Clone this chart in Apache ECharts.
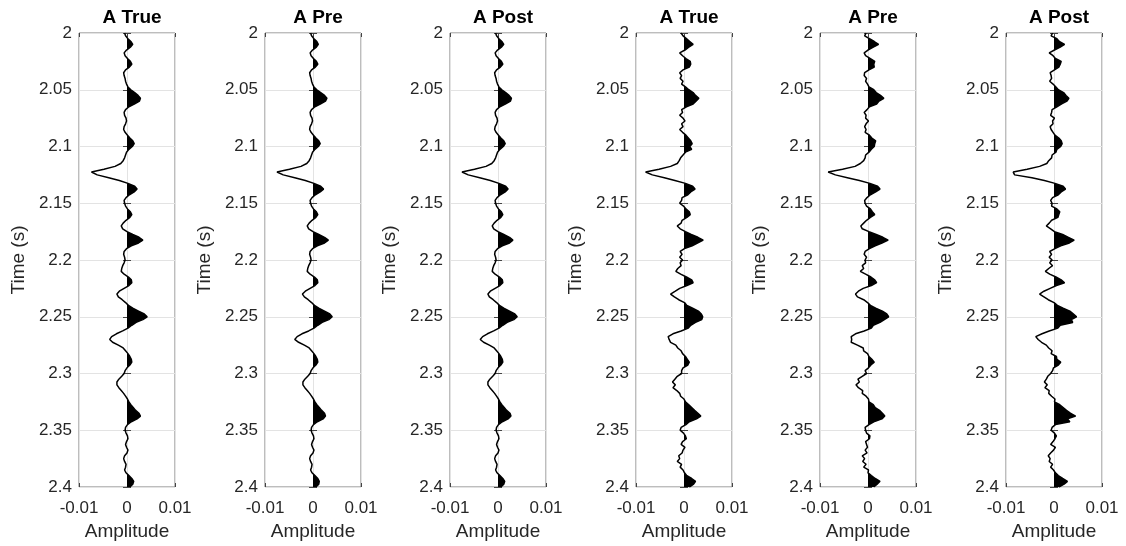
<!DOCTYPE html>
<html><head><meta charset="utf-8">
<script src="https://cdn.jsdelivr.net/npm/echarts@6/dist/echarts.min.js"></script>
<style>html,body{margin:0;padding:0;background:#fff}#c{width:1126px;height:546px}</style>
</head><body><div id="c"></div>
<script>
// Panel titles
const panelTitles = ['A True', 'A Pre', 'A Post', 'A True', 'A Pre', 'A Post'];
// Time sampling (s)
const timeStart = 2.0;
const timeStep = 0.0025;
const sampleCount = 161;
// Tick labels
const amplitudeTicks = [-0.01, 0, 0.01];
const timeTickLabels = ['2', '2.05', '2.1', '2.15', '2.2', '2.25', '2.3', '2.35', '2.4'];
// Amplitudes, in units of 1e-3
const ampTrueSmooth = [
-0.5,-0.3,0.2,0.8,1.2,0.7,-0.1,-0.6,-0.4,0.1,
0.7,1.0,0.5,-0.3,-0.7,-0.6,-0.4,-0.3,-0.1,0.2,
0.8,1.6,2.3,2.8,2.6,1.6,0.4,-0.3,-0.6,-0.5,
-0.2,-0.1,-0.3,-0.6,-0.7,-0.4,0.1,0.6,1.2,1.5,
1.1,0.4,-0.1,-0.3,-0.5,-0.8,-1.3,-2.5,-4.8,-7.4,
-6.2,-3.8,-1.6,0.2,1.6,2.1,1.5,0.5,-0.2,-0.6,
-0.5,-0.3,0.1,0.7,1.0,0.6,-0.2,-0.8,-1.2,-0.9,
0.0,1.2,2.5,3.3,2.4,0.9,-0.1,-0.6,-0.7,-0.5,
-0.4,-0.6,-0.9,-1.1,-1.2,-0.6,0.3,0.9,1.0,0.4,
-0.6,-1.6,-2.1,-1.8,-1.0,-0.3,0.3,1.2,2.4,3.6,
4.2,3.3,1.9,1.0,0.2,-0.9,-2.2,-3.2,-3.6,-3.0,
-1.8,-0.8,-0.3,0.2,0.6,0.9,1.0,0.6,0.0,-0.4,
-0.6,-1.1,-1.7,-2.1,-2.1,-1.7,-1.2,-0.7,-0.3,0.1,
0.4,0.8,1.3,1.8,2.5,2.8,2.1,0.9,0.1,-0.3,
-0.4,-0.2,0.1,0.2,-0.1,-0.3,-0.1,0.2,0.0,-0.5,
-0.7,-0.5,-0.2,-0.3,-0.5,-0.2,0.4,1.0,1.4,1.2,
0.6];
const ampPreSmooth = [
-0.5,-0.3,0.2,0.8,1.1,0.7,-0.1,-0.6,-0.4,0.1,
0.7,1.0,0.5,-0.3,-0.7,-0.6,-0.4,-0.3,-0.1,0.2,
0.8,1.6,2.4,2.9,2.6,1.6,0.4,-0.3,-0.6,-0.5,
-0.2,-0.1,-0.3,-0.6,-0.7,-0.4,0.1,0.6,1.2,1.5,
1.1,0.4,-0.1,-0.3,-0.5,-0.8,-1.3,-2.5,-4.9,-7.5,
-6.2,-3.8,-1.6,0.2,1.6,2.2,1.5,0.5,-0.2,-0.6,
-0.5,-0.3,0.1,0.7,1.0,0.6,-0.2,-0.8,-1.2,-0.9,
0.0,1.2,2.4,3.2,2.4,0.9,-0.1,-0.6,-0.7,-0.5,
-0.4,-0.6,-0.9,-1.1,-1.2,-0.6,0.3,0.9,1.0,0.4,
-0.6,-1.6,-2.2,-1.8,-1.0,-0.3,0.3,1.2,2.4,3.5,
4.0,3.3,1.9,1.0,0.2,-0.9,-2.3,-3.3,-3.8,-3.0,
-1.8,-0.8,-0.3,0.2,0.6,0.9,1.0,0.6,0.0,-0.4,
-0.6,-1.1,-1.7,-2.1,-2.1,-1.7,-1.2,-0.7,-0.3,0.1,
0.4,0.8,1.3,1.8,2.4,2.6,2.1,0.9,0.1,-0.3,
-0.4,-0.2,0.1,0.2,-0.1,-0.3,-0.1,0.2,0.0,-0.5,
-0.7,-0.5,-0.2,-0.3,-0.5,-0.2,0.4,1.0,1.3,1.2,
0.6];
const ampPostSmooth = [
-0.5,-0.3,0.2,0.8,1.2,0.7,-0.1,-0.6,-0.4,0.1,
0.7,1.0,0.5,-0.3,-0.7,-0.6,-0.4,-0.3,-0.1,0.2,
0.8,1.6,2.3,2.8,2.6,1.6,0.4,-0.3,-0.6,-0.5,
-0.2,-0.1,-0.3,-0.6,-0.7,-0.4,0.1,0.6,1.2,1.5,
1.1,0.4,-0.1,-0.3,-0.5,-0.8,-1.3,-2.5,-4.9,-7.5,
-6.2,-3.8,-1.6,0.2,1.6,2.1,1.5,0.5,-0.2,-0.6,
-0.5,-0.3,0.1,0.7,1.0,0.6,-0.2,-0.8,-1.2,-0.9,
0.0,1.2,2.4,3.1,2.4,0.9,-0.1,-0.6,-0.7,-0.5,
-0.4,-0.6,-0.9,-1.1,-1.2,-0.6,0.3,0.9,1.0,0.4,
-0.6,-1.6,-2.1,-1.8,-1.0,-0.3,0.3,1.2,2.4,3.5,
4.0,3.3,1.9,1.0,0.2,-0.9,-2.2,-3.2,-3.7,-3.0,
-1.8,-0.8,-0.3,0.2,0.6,0.9,1.0,0.6,0.0,-0.4,
-0.6,-1.1,-1.7,-2.1,-2.1,-1.7,-1.2,-0.7,-0.3,0.1,
0.4,0.8,1.3,1.8,2.5,2.7,2.1,0.9,0.1,-0.3,
-0.4,-0.2,0.1,0.2,-0.1,-0.3,-0.1,0.2,0.0,-0.5,
-0.7,-0.5,-0.2,-0.3,-0.5,-0.2,0.4,1.0,1.4,1.2,
0.6];
const ampTrueNoisy = [
-0.6,-0.2,0.5,1.2,1.9,1.0,0.2,-0.9,-0.3,0.4,
1.3,1.4,1.1,-0.2,-0.9,-0.5,-0.8,-0.2,-0.5,0.3,
1.0,1.9,2.4,3.1,2.5,1.9,0.5,-0.5,-0.3,-0.9,
-0.2,0.2,-0.5,-0.2,-0.9,-0.3,0.4,0.9,1.4,1.7,
1.2,1.6,0.3,-0.2,-0.7,-1.0,-1.4,-2.8,-5.2,-8.0,
-6.6,-4.1,-1.9,0.3,1.8,2.3,1.4,0.8,-0.4,-0.5,
-0.9,-0.1,0.4,1.1,1.3,0.6,-0.4,-0.6,-1.4,-0.8,
0.3,1.5,2.9,4.0,2.8,1.7,0.1,-0.8,-0.4,-0.9,
-0.3,-0.8,-0.6,-1.3,-1.7,-0.7,0.5,1.6,1.9,0.6,
-0.9,-1.8,-2.8,-2.0,-1.1,0.1,0.6,1.8,3.0,3.6,
3.9,3.7,2.4,1.4,0.9,-0.6,-2.3,-3.3,-3.1,-2.8,
-1.7,-1.3,-0.6,-0.3,0.3,0.7,1.1,0.8,-0.2,-0.5,
-0.5,-1.4,-1.9,-2.4,-1.8,-2.3,-1.5,-0.9,-0.7,0.0,
0.3,1.0,1.6,2.2,2.9,3.5,2.6,1.1,0.4,-0.6,
-0.8,-0.1,0.3,0.5,-0.3,-0.6,0.2,-0.2,-0.4,-1.1,
-0.9,-1.4,-0.5,-0.8,-0.2,0.1,0.6,1.6,2.4,2.0,
1.1];
const ampPreNoisy = [
-0.4,-0.7,0.3,1.3,2.2,1.1,0.0,-0.8,-0.5,0.5,
1.4,1.2,1.3,0.2,-0.7,-0.8,-0.3,-0.5,-0.1,0.2,
1.2,1.7,2.6,3.3,2.3,1.8,0.3,-0.2,-0.8,-0.4,
-0.5,0.1,-0.4,-0.7,-0.4,-0.6,0.3,0.8,1.6,1.4,
1.3,0.7,0.2,-0.5,-0.6,-0.9,-1.6,-2.7,-5.3,-8.3,
-6.8,-4.3,-1.8,0.4,2.0,2.5,1.6,0.5,-0.2,-0.7,
-0.6,-0.3,0.5,0.9,1.4,0.5,-0.3,-0.9,-1.5,-1.2,
0.2,1.7,3.1,4.2,2.9,1.5,0.3,-0.6,-0.8,-0.3,
-0.6,-0.5,-1.2,-0.9,-1.6,-0.5,0.6,1.4,1.8,0.7,
-1.0,-2.0,-2.6,-2.2,-0.9,-0.1,0.5,1.6,3.0,3.9,
4.3,3.4,2.5,1.1,0.7,-0.8,-2.6,-3.5,-3.4,-3.5,
-2.2,-1.0,-0.9,-0.1,0.2,0.8,1.3,0.6,0.1,-0.6,
-0.3,-1.2,-2.1,-1.8,-2.5,-2.0,-1.1,-1.2,-0.4,0.1,
0.2,1.1,1.5,2.4,3.0,3.5,2.9,1.2,0.2,-0.6,
-0.5,-0.3,0.4,0.3,-0.5,-0.3,-0.1,-0.6,-0.2,-1.2,
-0.7,-1.1,-0.4,-0.9,0.1,0.0,0.7,1.5,2.5,1.9,
1.2];
const ampPostNoisy = [
-0.3,-0.6,0.6,1.1,2.2,1.3,0.1,-1.0,-0.2,0.3,
1.5,1.3,1.0,0.1,-0.8,-0.6,-0.5,-0.9,-0.2,0.4,
0.9,2.0,2.5,3.1,2.7,1.6,0.6,-0.4,-0.5,-0.7,
0.1,-0.3,-0.2,-0.8,-0.6,-0.2,0.2,1.0,1.5,1.7,
1.4,0.6,0.4,-0.4,-0.5,-1.1,-1.5,-3.0,-5.6,-8.5,
-8.2,-4.6,-2.0,0.2,1.9,2.4,1.5,0.9,-0.3,-0.7,
-0.4,-0.5,0.6,1.2,1.0,0.8,-0.5,-1.0,-1.6,-0.7,
0.1,1.8,3.0,4.2,3.2,1.4,0.2,-0.9,-0.5,-1.0,
-0.4,-0.9,-0.3,-1.1,-1.8,-0.9,0.4,1.5,2.2,0.5,
-0.8,-2.1,-3.0,-2.1,-1.2,0.0,0.7,1.9,3.3,4.0,
4.7,3.6,3.9,1.3,0.8,-1.0,-2.5,-3.8,-3.3,-2.6,
-1.6,-1.1,-0.4,-0.6,0.5,0.6,1.4,0.9,-0.1,-0.3,
-0.7,-1.3,-1.6,-2.0,-1.4,-1.9,-1.0,-1.1,-0.5,0.2,
0.1,1.2,1.9,2.6,3.4,4.5,2.8,3.3,0.3,-0.4,
-0.6,0.1,0.5,0.2,-0.2,-0.7,0.3,-0.1,-0.7,-1.2,
-0.8,-1.0,-0.3,-0.7,-0.1,0.3,0.9,1.8,2.8,2.1,
1.0];
const panelAmps = [ampTrueSmooth, ampPreSmooth, ampPostSmooth, ampTrueNoisy, ampPreNoisy, ampPostNoisy];

const timeCats = [];
for (let i = 0; i < sampleCount; i++) timeCats.push((timeStart + i * timeStep).toFixed(4));
const labelEvery = 20;

const gridLefts = [79, 265, 450, 636, 820, 1006];
const textColor = '#262626';
const font = 'Liberation Sans, Arial, sans-serif';

const grid = [], xAxis = [], yAxis = [], series = [], title = [], areaIdx = [];
gridLefts.forEach((l, i) => {
  grid.push({left: l, top: 33, width: 96, height: 455, show: true, borderColor: '#7a7a7a', borderWidth: 1, backgroundColor: '#fff'});
  title.push({text: panelTitles[i], left: l + 48, top: 3, textAlign: 'center',
    textStyle: {fontFamily: font, fontSize: 19, fontWeight: 'bold', color: '#000'}});
});
gridLefts.forEach((l, i) => {
  xAxis.push({gridIndex: i, type: 'value', min: amplitudeTicks[0], max: amplitudeTicks[2], interval: 0.01, position: 'bottom',
    axisLine: {show: false}, axisTick: {show: true, inside: true, length: 4, lineStyle: {color: '#444'}},
    axisLabel: {fontFamily: font, fontSize: 17, color: textColor, margin: 13, formatter: v => String(+v.toFixed(3))},
    splitLine: {show: true, lineStyle: {color: '#e3e3e3', width: 1}},
    name: 'Amplitude', nameLocation: 'middle', nameGap: 35,
    nameTextStyle: {fontFamily: font, fontSize: 19, color: textColor}});
  yAxis.push({gridIndex: i, type: 'category', data: timeCats, inverse: true, boundaryGap: false,
    axisLine: {show: false}, axisTick: {show: true, inside: true, length: 4, interval: labelEvery - 1, lineStyle: {color: '#444'}},
    axisLabel: {interval: labelEvery - 1, fontFamily: font, fontSize: 17, color: textColor, margin: 7,
      formatter: (v, idx) => timeTickLabels[Math.round(idx / labelEvery)]},
    splitLine: {show: true, interval: labelEvery - 1, lineStyle: {color: '#e3e3e3', width: 1}},
    name: 'Time (s)', nameLocation: 'middle', nameGap: 51, nameRotate: 90,
    nameTextStyle: {fontFamily: font, fontSize: 19, color: textColor}});
});
gridLefts.forEach((l, i) => {
  xAxis.push({gridIndex: i, type: 'value', min: amplitudeTicks[0], max: amplitudeTicks[2], interval: 0.01, position: 'top',
    axisLine: {show: false}, axisTick: {show: true, inside: true, length: 4, lineStyle: {color: '#444'}},
    axisLabel: {show: false}, splitLine: {show: false}});
  yAxis.push({gridIndex: i, type: 'category', data: timeCats, inverse: true, boundaryGap: false, position: 'right',
    axisLine: {show: false}, axisTick: {show: true, inside: true, length: 4, interval: labelEvery - 1, lineStyle: {color: '#444'}},
    axisLabel: {show: false}, splitLine: {show: false}});
});
panelAmps.forEach((amps, i) => {
  const data = amps.map((a, k) => [a * 1e-3, k]);
  areaIdx.push(series.length);
  series.push({type: 'line', xAxisIndex: i, yAxisIndex: i, data: data, showSymbol: false, silent: true,
    lineStyle: {width: 0}, areaStyle: {opacity: 1}, z: 2, animation: false});
  series.push({type: 'line', xAxisIndex: i, yAxisIndex: i, data: data, showSymbol: false, silent: true,
    itemStyle: {color: '#000'}, lineStyle: {color: '#000', width: 1.5}, z: 3, animation: false});
});

const chart = echarts.init(document.getElementById('c'), null, {renderer: 'canvas'});
chart.setOption({
  animation: false,
  backgroundColor: '#fff',
  title: title,
  grid: grid,
  xAxis: xAxis,
  yAxis: yAxis,
  visualMap: {type: 'piecewise', show: false, dimension: 0, seriesIndex: areaIdx,
    pieces: [{min: -1, max: 0, color: 'rgba(0,0,0,0)'}, {gt: 0, max: 1, color: '#000'}],
    outOfRange: {color: 'rgba(0,0,0,0)'}},
  series: series
});
</script></body></html>
